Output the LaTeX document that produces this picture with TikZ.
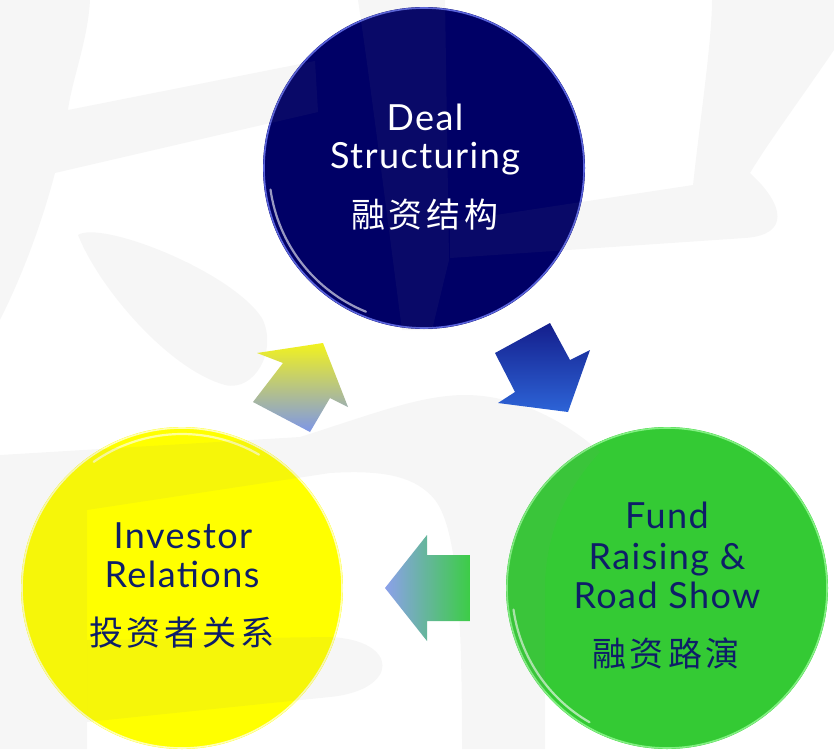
\documentclass[tikz,border=0pt]{standalone}
\usepackage{fontspec}
\setmainfont{Lato}
\newfontfamily\latinf[LetterSpace=4]{Lato}
\newfontfamily\cjk{Noto Sans CJK SC}
\definecolor{navy}{RGB}{0,0,102}
\definecolor{txtnavy}{RGB}{14,30,104}
\definecolor{cgreen}{RGB}{52,202,52}
\definecolor{cyellow}{RGB}{255,255,0}
\definecolor{wmark}{RGB}{140,140,140}
\definecolor{navyrim}{RGB}{90,100,220}
\definecolor{greenrim}{RGB}{130,240,130}
\definecolor{yellowrim}{RGB}{255,255,180}
\definecolor{arrY}{RGB}{242,242,30}
\definecolor{arrYB}{RGB}{125,150,232}
\definecolor{arrBt}{RGB}{20,30,140}
\definecolor{arrBb}{RGB}{45,100,215}
\definecolor{arrGl}{RGB}{140,160,235}
\definecolor{arrGr}{RGB}{60,205,70}
\newcommand{\hg}{\hspace{4pt}}
\begin{document}
\begin{tikzpicture}[x=1pt,y=-1pt,
  disc/.style={circle, inner sep=0pt, minimum size=322pt},
  latin/.style={anchor=base, inner sep=0pt, font=\latinf\fontsize{36}{36}\selectfont},
  hanzi/.style={anchor=center, inner sep=0pt, font=\cjk\fontsize{34}{34}\selectfont},
  wm/.style={fill=wmark, fill opacity=0.07, draw=none},
  rim/.style={line width=1.6pt},
  gloss/.style={white, line width=2.2pt, opacity=0.6, line cap=round}]
\useasboundingbox (0,0) rectangle (834,749);
\fill[white] (0,0) rectangle (834,749);
\begin{scope}
\clip (0,0) rectangle (834,749);
% circles
\node[disc, fill=navy] (deal) at (424,168) {};
\node[disc, fill=cgreen] (fund) at (667,588) {};
\node[disc, fill=cyellow] (inv) at (182,588) {};
\draw[navyrim, rim] (deal.center) circle[radius=160pt];
\draw[greenrim, rim] (fund.center) circle[radius=160pt];
\draw[yellowrim, rim] (inv.center) circle[radius=160pt];
\draw[gloss] (deal.center) ++(188:155pt) arc[start angle=188, end angle=248, radius=155pt];
\draw[gloss] (fund.center) ++(188:155pt) arc[start angle=188, end angle=240, radius=155pt];
\draw[gloss] (inv.center) ++(60:154pt) arc[start angle=60, end angle=125, radius=154pt];
% watermark
\fill[wm] (0,0) -- (90,0) .. controls (88,40) and (72,80) .. (68,110) -- (315,61) -- (318,112) -- (55,173) .. controls (40,230) and (20,280) .. (0,320) -- cycle;
\fill[wm] (78,235) .. controls (100,220) and (230,270) .. (262,318) .. controls (278,350) and (255,392) .. (225,385) .. controls (170,370) and (100,290) .. (78,235) -- cycle;
\fill[wm] (712,0) -- (834,0) -- (834,50) .. controls (800,100) and (770,140) .. (750,173) .. controls (785,205) and (790,235) .. (745,238) -- (450,258) -- (450,222) -- (693,185) .. controls (700,120) and (712,40) .. (712,0) -- cycle;
\fill[wm] (358,0) -- (445,0) -- (449,260) -- (432,330) -- (402,330) .. controls (385,200) and (370,80) .. (358,0) -- cycle;
\fill[wm] (0,455) -- (300,437) .. controls (370,415) and (420,395) .. (465,395) .. controls (520,395) and (570,425) .. (600,452) .. controls (565,490) and (548,530) .. (545,580) -- (545,749) -- (462,749) .. controls (462,620) and (458,530) .. (435,500) .. controls (415,475) and (380,470) .. (330,473) -- (87,510) -- (87,749) -- (0,749) -- cycle;
\fill[wm] (87,640) -- (330,637) .. controls (400,640) and (400,690) .. (330,697) -- (87,722) -- cycle;
\end{scope}
% block arrows
\shade[top color=arrY, bottom color=arrYB] (323,343) -- (348,407) -- (330,398) -- (310,432) -- (253,402) -- (283,363) -- (257,353) -- cycle;
\shade[top color=arrBt, bottom color=arrBb] (550,323) -- (570,360) -- (590,350) -- (568,412) -- (498,403) -- (515,392) -- (495,353) -- cycle;
\shade[left color=arrGl, right color=arrGr] (385,588) -- (427,535) -- (427,555) -- (470,555) -- (470,621) -- (427,621) -- (427,641) -- cycle;
% texts
\node[latin, text=white] (dealA) at (425,130) {Deal};
\node[latin, text=white] (dealB) at (425,168) {Structuring};
\node[hanzi, text=white] (dealC) at (425,215) {融\hg 资\hg 结\hg 构};
\node[latin, text=txtnavy] (fundA) at (667,528) {Fund};
\node[latin, text=txtnavy] (fundB) at (667,569) {Raising \&};
\node[latin, text=txtnavy] (fundC) at (667,608) {Road Show};
\node[hanzi, text=txtnavy] (fundD) at (666,654) {融\hg 资\hg 路\hg 演};
\node[latin, text=txtnavy] (invA) at (183,548) {Investor};
\node[latin, text=txtnavy] (invB) at (182,587) {Relations};
\node[hanzi, text=txtnavy] (invC) at (182,633) {投\hg 资\hg 者\hg 关\hg 系};
\end{tikzpicture}
\end{document}
